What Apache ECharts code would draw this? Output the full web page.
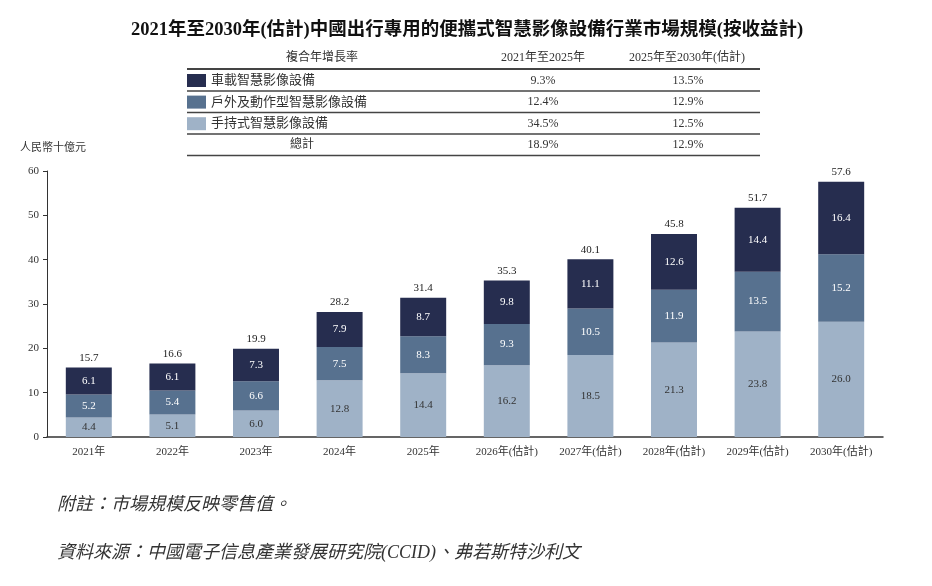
<!DOCTYPE html>
<html>
<head>
<meta charset="utf-8">
<script src="https://cdn.jsdelivr.net/npm/echarts@6/dist/echarts.min.js"></script>
<style>
  html, body { margin: 0; padding: 0; background: #fff; }
  #chart { width: 932px; height: 586px; }
</style>
</head>
<body>
<div id="chart"></div>
<script>
const years = ["2021年", "2022年", "2023年", "2024年", "2025年",
  "2026年(估計)", "2027年(估計)", "2028年(估計)", "2029年(估計)", "2030年(估計)"];
const handheld = [4.4, 5.1, 6.0, 12.8, 14.4, 16.2, 18.5, 21.3, 23.8, 26.0];
const outdoor = [5.2, 5.4, 6.6, 7.5, 8.3, 9.3, 10.5, 11.9, 13.5, 15.2];
const vehicle = [6.1, 6.1, 7.3, 7.9, 8.7, 9.8, 11.1, 12.6, 14.4, 16.4];
const totals = [15.7, 16.6, 19.9, 28.2, 31.4, 35.3, 40.1, 45.8, 51.7, 57.6];
const yTicks = [0, 10, 20, 30, 40, 50, 60];

const segNames = ["車載智慧影像設備", "戶外及動作型智慧影像設備", "手持式智慧影像設備"];
const tableRows = ["車載智慧影像設備", "戶外及動作型智慧影像設備", "手持式智慧影像設備", "總計"];
const cagr2125 = ["9.3%", "12.4%", "34.5%", "18.9%"];
const cagr2530 = ["13.5%", "12.9%", "12.5%", "12.9%"];
const tableHead = ["複合年增長率", "2021年至2025年", "2025年至2030年(估計)"];

const FONT = '"Liberation Serif", "Noto Sans CJK TC", serif';
const C_DARK = "#262d4f";
const C_MID = "#57718f";
const C_LIGHT = "#9fb2c7";
const TXT = "#333";

const chart = echarts.init(document.getElementById("chart"));

// table graphics
const rowY = [80.5, 102, 123.5, 145];
const lineY = [91, 112.5, 134, 155.5];
const graphics = [];
const txt = (x, y, text, size, extra) => ({
  type: "text", x: x, y: y,
  style: Object.assign({ text: text, font: size + "px " + FONT, fill: TXT, align: "center", verticalAlign: "middle" }, extra || {}),
});
graphics.push(txt(322, 58, tableHead[0], 12));
graphics.push(txt(543, 58, tableHead[1], 12));
graphics.push(txt(687, 58, tableHead[2], 12));
graphics.push({ type: "line", shape: { x1: 187, y1: 69, x2: 760, y2: 69 }, style: { stroke: "#444", lineWidth: 2 } });
lineY.forEach((y) => {
  graphics.push({ type: "line", shape: { x1: 187, y1: y, x2: 760, y2: y }, style: { stroke: "#444", lineWidth: 1.5 } });
});
tableRows.forEach((name, i) => {
  if (i === 3) graphics.push(txt(302, rowY[i], name, 12));
  graphics.push(txt(543, rowY[i], cagr2125[i], 12));
  graphics.push(txt(688, rowY[i], cagr2530[i], 12));
});
// title, unit, notes
graphics.push(txt(467, 30, "2021年至2030年(估計)中國出行專用的便攜式智慧影像設備行業市場規模(按收益計)", 18.5, { font: "bold 18.5px " + FONT, fill: "#111" }));
graphics.push(txt(20, 148, "人民幣十億元", 11, { align: "left" }));
graphics.push(txt(57, 505, "附註：市場規模反映零售值。", 18, { align: "left", font: "italic 18px " + FONT }));
graphics.push(txt(57, 553, "資料來源：中國電子信息產業發展研究院(CCID)、弗若斯特沙利文", 18, { align: "left", font: "italic 18px " + FONT }));

const segLabel = (color) => ({
  show: true,
  position: "inside",
  color: color,
  fontFamily: FONT,
  fontSize: 11,
  formatter: (p) => p.value.toFixed(1),
});

const option = {
  animation: false,
  textStyle: { fontFamily: FONT },
  graphic: graphics,
  legend: {
    data: segNames,
    orient: "vertical",
    left: 187,
    top: 74,
    padding: 0,
    itemWidth: 19,
    itemHeight: 13,
    itemGap: 8.6,
    icon: "rect",
    selectedMode: false,
    textStyle: { fontFamily: FONT, fontSize: 13, color: TXT, lineHeight: 13 },
  },
  grid: { left: 47, right: 49, top: 171, bottom: 149 },
  xAxis: {
    type: "category",
    data: years,
    axisLine: { lineStyle: { color: "#333", width: 1.5 } },
    axisTick: { show: false },
    axisLabel: { color: TXT, fontSize: 11, fontFamily: FONT, margin: 10, interval: 0 },
  },
  yAxis: {
    type: "value",
    min: yTicks[0],
    max: yTicks[yTicks.length - 1],
    interval: 10,
    axisLine: { show: true, lineStyle: { color: "#333", width: 1 } },
    axisTick: { show: true, length: 4, lineStyle: { color: "#333" } },
    splitLine: { show: false },
    axisLabel: { color: TXT, fontSize: 11, fontFamily: FONT, margin: 8 },
  },
  series: [
    { name: segNames[2], type: "bar", stack: "t", barWidth: "55%", data: handheld, itemStyle: { color: C_LIGHT }, label: segLabel("#333") },
    { name: segNames[1], type: "bar", stack: "t", data: outdoor, itemStyle: { color: C_MID }, label: segLabel("#fff") },
    { name: segNames[0], type: "bar", stack: "t", data: vehicle, itemStyle: { color: C_DARK }, label: segLabel("#fff") },
    {
      name: "總計", type: "bar", stack: "t", data: totals.map(() => 0),
      itemStyle: { color: "transparent" },
      label: {
        show: true, position: "top", distance: 4, color: "#222", fontSize: 11, fontFamily: FONT,
        formatter: (p) => totals[p.dataIndex].toFixed(1),
      },
    },
  ],
};

chart.setOption(option);
</script>
</body>
</html>
